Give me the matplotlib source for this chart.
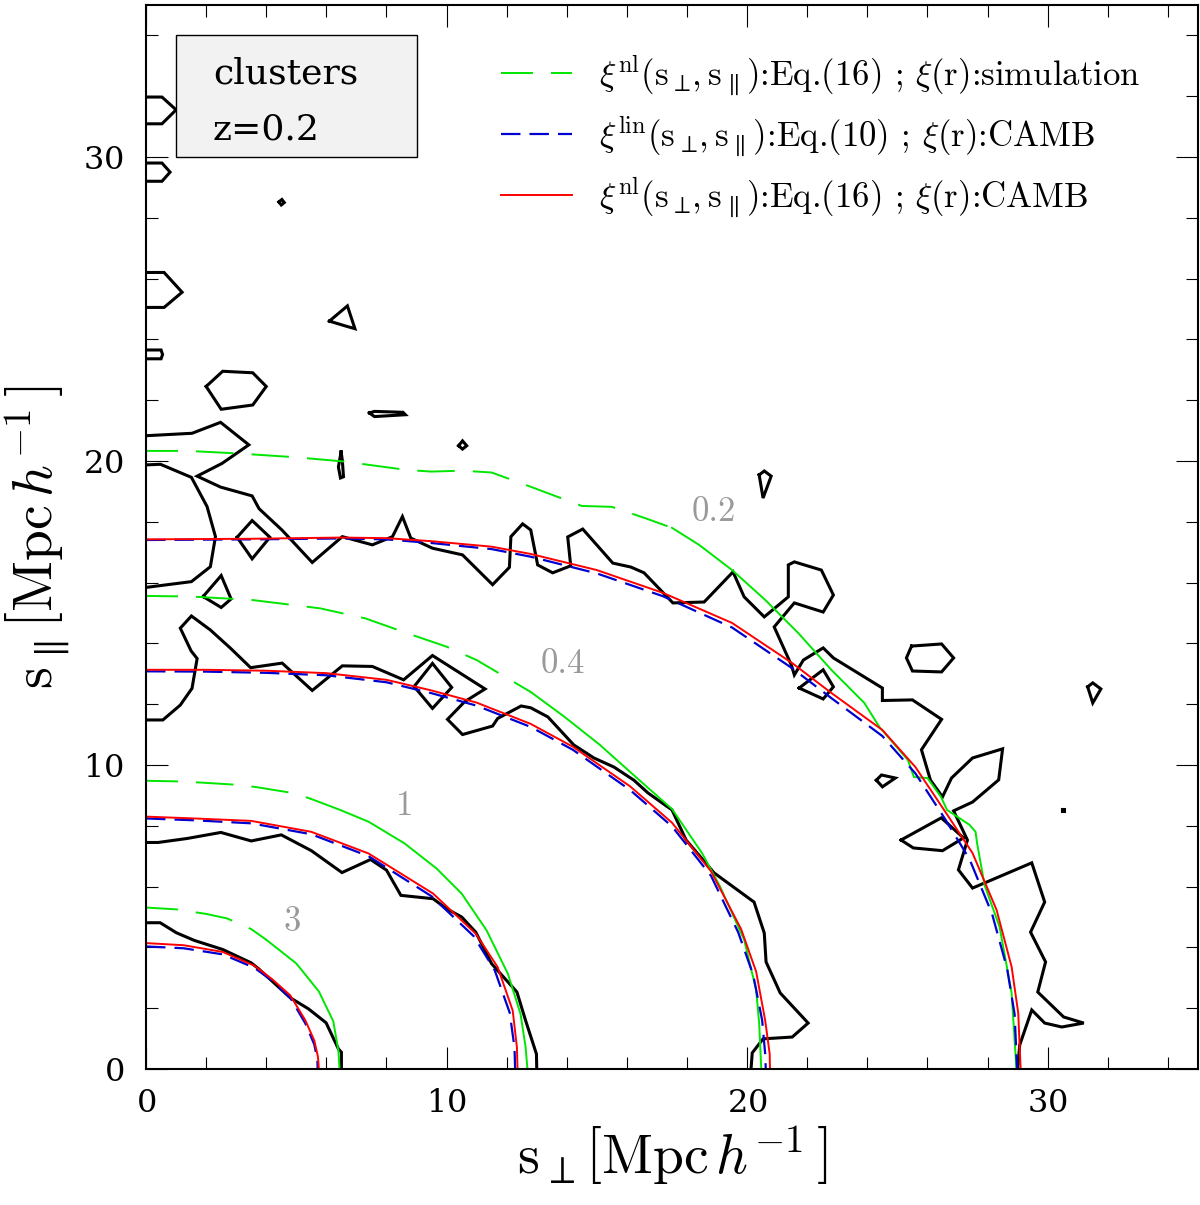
import matplotlib.pyplot as plt
from matplotlib.patches import Rectangle

plt.rcParams['font.family'] = 'cmr10'
plt.rcParams['mathtext.fontset'] = 'cm'
plt.rcParams['axes.unicode_minus'] = False
plt.rcParams['axes.formatter.use_mathtext'] = True
plt.rcParams['lines.scale_dashes'] = False

# --- model contours ---
# xi^lin, CAMB (blue dashed)
blue3_x = [0, 1.25, 2.55, 3.6, 4.2, 4.8, 5.3, 5.6, 5.7, 5.71]
blue3_y = [4.03, 3.97, 3.77, 3.33, 2.9, 2.34, 1.5, 0.8, 0.3, 0]
blue1_x = [0, 1.6, 3.5, 5.5, 7.4, 9.5, 10.9, 11.6, 12.1, 12.26, 12.28]
blue1_y = [8.24, 8.18, 8.08, 7.72, 7.0, 5.68, 4.37, 3.25, 1.85, 0.7, 0]
blue04_x = [0, 2, 4, 6, 8, 9.5, 11, 12.8, 14.2, 16.1, 17.5, 18.8, 19.7, 20.2, 20.5, 20.6, 20.62]
blue04_y = [13.08, 13.07, 13.03, 12.95, 12.72, 12.36, 11.95, 11.25, 10.5, 9.18, 7.98, 6.35, 4.5, 3.1, 1.6, 0.5, 0]
blue02_x = [0, 3.5, 6.5, 8, 9.5, 11.5, 12.8, 15.0, 17.2, 19.5, 21.5, 22.8, 24.5, 25.6, 26.6, 27.4, 28.15, 28.65, 28.9, 28.98]
blue02_y = [17.4, 17.42, 17.45, 17.42, 17.3, 17.1, 16.85, 16.3, 15.55, 14.52, 13.18, 12.2, 10.95, 9.72, 8.2, 6.9, 5.1, 3.3, 1.8, 0]

# xi^nl, CAMB (red solid)
red3_x = [0, 1.25, 2.55, 3.6, 4.2, 4.8, 5.3, 5.6, 5.72, 5.75]
red3_y = [4.14, 4.07, 3.85, 3.4, 2.95, 2.42, 1.6, 0.93, 0.4, 0]
red1_x = [0, 1.6, 3.5, 5.5, 7.4, 9.55, 10.97, 11.7, 12.2, 12.34, 12.36]
red1_y = [8.3, 8.24, 8.16, 7.8, 7.09, 5.77, 4.45, 3.35, 1.92, 0.71, 0]
red04_x = [0, 2, 4, 6, 8, 9.5, 11, 12.8, 14.2, 16.1, 17.5, 18.8, 19.8, 20.3, 20.6, 20.75, 20.76]
red04_y = [13.13, 13.13, 13.1, 13.02, 12.8, 12.45, 12.05, 11.35, 10.6, 9.3, 8.1, 6.5, 4.6, 3.2, 1.6, 0.5, 0]
red02_x = [0, 3.5, 6.5, 8, 9.5, 11.5, 12.8, 15.0, 17.2, 19.5, 21.5, 22.8, 24.5, 25.6, 26.7, 27.5, 28.3, 28.8, 29.02, 29.1]
red02_y = [17.42, 17.44, 17.48, 17.46, 17.36, 17.18, 16.94, 16.41, 15.66, 14.67, 13.35, 12.37, 11.15, 9.93, 8.3, 7.1, 5.23, 3.36, 1.84, 0]

# xi^nl, simulation xi(r) (green): dashed part near the axis, solid beyond
green3_x = [0, 1.0, 2.0, 2.7, 3.5, 4.0, 4.45, 5.0, 5.75, 6.23, 6.4, 6.44]
green3_y = [5.31, 5.25, 5.1, 4.95, 4.6, 4.25, 3.9, 3.47, 2.55, 1.57, 0.6, 0]
green3_cut = 5
green1_x = [0, 1.0, 1.84, 3.14, 3.74, 4.92, 5.5, 6.46, 7.41, 8.6, 9.67, 10.5, 11.33, 12.04, 12.46, 12.63, 12.69]
green1_y = [9.48, 9.46, 9.42, 9.34, 9.26, 9.07, 8.88, 8.52, 8.13, 7.42, 6.59, 5.77, 4.56, 3.13, 1.81, 0.71, 0]
green1_cut = 6
green04_x = [0, 1.5, 3.5, 5.8, 7.3, 8.7, 10.0, 11.0, 12.8, 13.9, 15.1, 16.3, 17.5, 18.5, 19.1, 19.9, 20.3, 20.4, 20.47]
green04_y = [15.56, 15.54, 15.43, 15.15, 14.82, 14.33, 13.89, 13.45, 12.4, 11.6, 10.66, 9.6, 8.55, 7.1, 6.0, 4.25, 2.6, 1.5, 0]
green04_cut = 8
green02_x = [0, 1.4, 3.0, 5.0, 6.6, 8.7, 9.5, 10.5, 11.5, 12.8, 14.5, 15.5, 16.6, 17.5, 18.4, 19.5, 20.6, 21.7,
             22.8, 23.9, 24.4, 25.35, 25.55, 26.0, 26.45, 26.65, 27.4, 27.6, 27.65, 27.9, 28.4, 28.8, 28.96]
green02_y = [20.33, 20.33, 20.25, 20.12, 19.98, 19.7, 19.65, 19.68, 19.62, 19.15, 18.52, 18.49, 18.12, 17.8, 17.24,
             16.41, 15.43, 14.34, 13.13, 12.04, 11.25, 10.16, 9.6, 9.57, 8.95, 8.52, 8.03, 7.8, 7.43, 6.05, 4.67, 2.5, 0]
green02_cut = 13

# --- simulation contours (black) ---
sim3_x = [0, 0.47, 1.01, 1.6, 2.55, 3.5, 3.74, 4.8, 5.4, 5.99, 6.4, 6.5, 6.5]
sim3_y = [4.81, 4.81, 4.48, 4.23, 3.93, 3.49, 3.3, 2.34, 1.98, 1.52, 0.66, 0.55, 0]
sim1_x = [0, 0.4, 1.36, 2.49, 3.5, 4.5, 5.5, 6.52, 7.47, 8.0, 8.48, 9.55, 10.0, 10.5, 10.97, 11.5, 12.34,
          12.63, 12.99, 13.0]
sim1_y = [7.45, 7.45, 7.58, 7.78, 7.5, 7.7, 7.18, 6.46, 6.89, 6.54, 5.71, 5.6, 5.27, 5.0, 4.5, 3.46, 2.53,
          1.59, 0.49, 0]
sim04_x = [0, 0.56, 1.14, 1.53, 1.7, 1.5, 1.14, 1.51, 2.14, 2.81, 3.48, 4.53, 5.53, 6.53, 7.53, 8.57, 9.53,
           11.28, 10.6, 10.03, 10.53, 11.53, 11.7, 12.48, 12.8, 13.37, 14.23, 14.9, 15.57, 16.23, 16.7, 17.5,
           17.97, 18.9, 20.23, 20.57, 20.63, 21.1, 22.03, 21.5, 20.53, 20.17, 20.13]
sim04_y = [11.48, 11.48, 11.97, 12.52, 13.5, 13.75, 14.5, 14.9, 14.44, 13.84, 13.2, 13.35, 12.45, 13.26, 13.24,
           12.8, 13.6, 12.5, 12.08, 11.5, 11.0, 11.28, 11.53, 11.94, 11.88, 11.58, 10.66, 10.23, 9.93, 9.5,
           9.08, 8.52, 7.53, 6.45, 5.49, 4.47, 3.52, 2.5, 1.51, 1.05, 0.99, 0.53, 0]
sim02_x = [0, 1.53, 2.48, 3.42, 2.53, 1.7, 2.48, 3.53, 3.76, 4.53, 5.53, 6.53, 7.53, 8.2, 8.53, 8.81, 9.53,
           10.53, 11.53, 12.09, 12.14, 12.53, 12.8, 13.03, 13.53, 14.13, 14.03, 14.53, 15.53, 16.13, 16.57,
           17.53, 18.57, 19.53, 19.9, 20.57, 21.37, 21.37, 21.57, 22.47, 22.87, 22.53, 21.57, 20.9, 21.47,
           21.57, 21.87, 22.53, 22.87, 24.5, 24.5, 25.5, 26.47, 25.8, 26.1, 26.5, 26.8, 27.5, 28.5, 28.37,
           27.5, 26.87, 27.33, 27.03, 27.5, 29.47, 29.9, 29.43, 29.93, 29.67, 30.53, 31.2, 30.47, 29.9,
           29.47, 29.07, 29.0]
sim02_y = [20.83, 20.91, 21.27, 20.53, 19.92, 19.5, 19.14, 18.85, 18.43, 17.72, 16.66, 17.51, 17.24, 17.51,
           18.17, 17.46, 17.13, 16.91, 15.93, 16.5, 17.51, 17.93, 17.73, 16.58, 16.32, 16.55, 17.5, 17.76,
           16.64, 16.51, 16.32, 15.33, 15.36, 16.35, 15.53, 14.87, 15.53, 16.58, 16.68, 16.41, 15.59, 15.03,
           15.33, 14.54, 13.29, 12.96, 13.45, 13.85, 13.52, 12.53, 12.12, 12.14, 11.5, 10.5, 9.5, 8.95, 9.57,
           10.23, 10.53, 9.51, 8.78, 8.49, 7.53, 6.55, 5.95, 6.78, 5.49, 4.5, 3.52, 2.53, 1.71, 1.51, 1.38,
           1.51, 1.94, 0.79, 0]
sim02_in_x = [0, 0.48, 1.51, 2.03, 2.31, 2.14, 1.51, 0]
sim02_in_y = [19.87, 19.89, 19.46, 18.5, 17.51, 16.52, 16.03, 15.84]

# small islands of the simulation contours
islands = [
    ([0, 0.53, 1.0, 0.53, 0], [31.97, 31.97, 31.55, 31.09, 31.09]),
    ([0, 0.53, 0.8, 0.53, 0], [29.8, 29.8, 29.5, 29.2, 29.2]),
    ([0, 0.6, 1.2, 0.6, 0], [26.2, 26.2, 25.55, 25.05, 25.05]),
    ([0, 0.5, 0.55, 0.5, 0], [23.65, 23.65, 23.5, 23.36, 23.36]),
    ([4.42, 4.52, 4.6, 4.5, 4.42], [28.52, 28.6, 28.5, 28.42, 28.52]),
    ([6.1, 6.7, 6.95, 6.6, 6.1], [24.6, 25.1, 24.35, 24.45, 24.6]),
    ([2.0, 2.55, 3.55, 4.0, 3.55, 2.5, 2.0], [22.45, 22.95, 22.9, 22.45, 21.84, 21.7, 22.45]),
    ([7.43, 7.6, 8.55, 8.63, 7.6, 7.43], [21.58, 21.63, 21.6, 21.52, 21.46, 21.58]),
    ([10.4, 10.53, 10.67, 10.53, 10.4], [20.5, 20.66, 20.5, 20.39, 20.5]),
    ([6.49, 6.53, 6.57, 6.47, 6.4, 6.49], [20.3, 20.03, 19.48, 19.44, 19.8, 20.3]),
    ([3.03, 3.53, 4.12, 3.53, 3.03], [17.49, 18.04, 17.49, 16.78, 17.49]),
    ([1.9, 2.5, 2.83, 2.5, 1.9], [15.54, 16.23, 15.46, 15.18, 15.54]),
    ([8.92, 9.53, 10.17, 9.53, 8.92], [12.58, 13.34, 12.55, 11.86, 12.58]),
    ([20.4, 20.57, 20.8, 20.53, 20.4], [19.54, 19.67, 19.5, 18.78, 19.54]),
    ([21.73, 22.53, 22.87, 22.53, 21.73], [12.53, 13.13, 12.57, 12.17, 12.53]),
    ([24.3, 24.47, 24.93, 24.5, 24.3], [9.5, 9.67, 9.57, 9.28, 9.5]),
    ([25.47, 26.47, 26.87, 26.47, 25.5, 25.3, 25.47], [13.91, 13.98, 13.52, 13.06, 13.09, 13.52, 13.91]),
    ([31.33, 31.5, 31.77, 31.5, 31.33], [12.57, 12.7, 12.5, 12.04, 12.57]),
    ([30.47, 30.53, 30.53, 30.47, 30.47], [8.55, 8.55, 8.49, 8.49, 8.55]),
    ([25.12, 26.46, 27.2, 26.5, 25.53, 25.12], [7.53, 8.26, 7.6, 7.18, 7.27, 7.53]),
]

levels = ['3', '1', '0.4', '0.2']
level_x = [4.85, 8.62, 13.87, 18.9]
level_y = [4.84, 8.65, 13.3, 18.3]

GREEN = '#00e600'
BLUE = '#0000d0'
RED = '#ff0000'
green_ls = (4, (27, 13))
blue_ls = (0, (14, 6.5))

fig = plt.figure(figsize=(12, 12.05), dpi=100)
ax = fig.add_axes([0.1217, 0.1129, 0.8766, 0.8830])

# black: simulation contours
for xs, ys in [(sim3_x, sim3_y), (sim1_x, sim1_y), (sim04_x, sim04_y),
               (sim02_x, sim02_y), (sim02_in_x, sim02_in_y)] + islands:
    ax.plot(xs, ys, color='black', lw=2.2, solid_joinstyle='miter')

# green
green_handle = None
for gx, gy, cut in [(green3_x, green3_y, green3_cut), (green1_x, green1_y, green1_cut),
                    (green04_x, green04_y, green04_cut), (green02_x, green02_y, green02_cut)]:
    ln, = ax.plot(gx[:cut + 1], gy[:cut + 1], color=GREEN, lw=1.4, ls=green_ls)
    ax.plot(gx[cut:], gy[cut:], color=GREEN, lw=1.4)
    if green_handle is None:
        green_handle = ln

# blue dashed
for bx, by in [(blue3_x, blue3_y), (blue1_x, blue1_y), (blue04_x, blue04_y), (blue02_x, blue02_y)]:
    blue_handle, = ax.plot(bx, by, color=BLUE, lw=1.6, ls=blue_ls)

# red solid
for rx, ry in [(red3_x, red3_y), (red1_x, red1_y), (red04_x, red04_y), (red02_x, red02_y)]:
    red_handle, = ax.plot(rx, ry, color=RED, lw=1.4)

for lab, lx, ly in zip(levels, level_x, level_y):
    ax.text(lx, ly, lab, color='#9a9a9a', fontsize=25, ha='center', va='center')

# sample box
ax.add_patch(Rectangle((1.0, 30.0), 8.0, 4.0, facecolor='#f2f2f2', edgecolor='black', lw=1.0, zorder=3))
ax.text(2.23, 32.43, 'clusters', fontsize=26, family='DejaVu Serif', va='baseline', zorder=4)
ax.text(2.23, 30.56, 'z=0.2', fontsize=26, family='DejaVu Serif', va='baseline', zorder=4)

lab_sim = r'$\xi^{\rm nl}({\rm s}_\perp\!,{\rm s}_\parallel)$:Eq.(16) ; $\xi$(r):simulation'
lab_lin = r'$\xi^{\rm lin}({\rm s}_\perp\!,{\rm s}_\parallel)$:Eq.(10) ; $\xi$(r):CAMB'
lab_nl = r'$\xi^{\rm nl}({\rm s}_\perp\!,{\rm s}_\parallel)$:Eq.(16) ; $\xi$(r):CAMB'
ax.legend([green_handle, blue_handle, red_handle], [lab_sim, lab_lin, lab_nl],
          loc='upper left', bbox_to_anchor=(0.337, 0.955), frameon=False, fontsize=25,
          handlelength=2.05, handletextpad=0.8, labelspacing=0.5, borderpad=0, borderaxespad=0)

ax.set_xlim(0, 35)
ax.set_ylim(0, 35)
ax.set_xticks([0, 10, 20, 30])
ax.set_yticks([0, 10, 20, 30])
ax.set_xticks(range(0, 36, 2), minor=True)
ax.set_yticks(range(0, 36, 2), minor=True)
ax.tick_params(which='both', direction='in', top=True, right=True, width=0.8,
               labelsize=23, labelfontfamily='DejaVu Serif')
ax.tick_params(which='major', length=16, pad=14)
ax.tick_params(which='minor', length=8.5)
ax.tick_params(axis='y', which='major', pad=16)
for sp in ax.spines.values():
    sp.set_linewidth(1.5)

ax.set_xlabel(r'${\rm s}_\perp\left[{\rm Mpc}\,h^{-1}\,\right]$', fontsize=40, labelpad=4)
ax.set_ylabel(r'${\rm s}_\parallel\left[{\rm Mpc}\,h^{-1}\,\right]$', fontsize=40, labelpad=8)

fig.savefig('out.png', dpi=100)
